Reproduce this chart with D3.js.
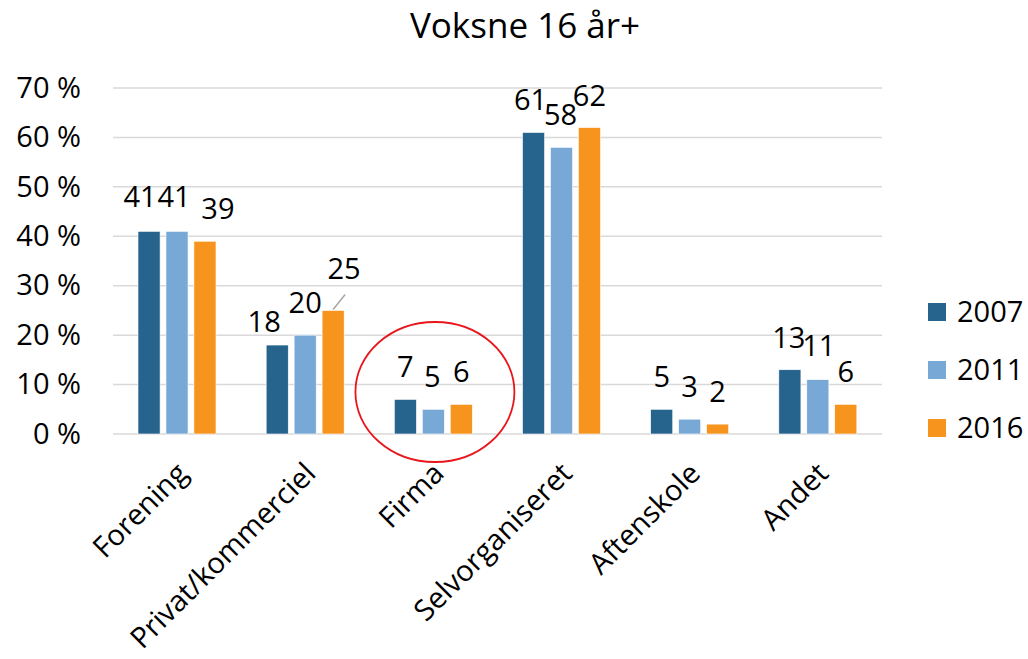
<!DOCTYPE html>
<html>
<head>
<meta charset="utf-8">
<script src="https://cdn.jsdelivr.net/npm/d3@7"></script>
<style>
  html, body { margin: 0; padding: 0; background: #fff; }
  #chart { width: 1028px; height: 659px; }
</style>
</head>
<body>
<div id="chart"></div>
<script>
const categories = ["Forening", "Privat/kommerciel", "Firma", "Selvorganiseret", "Aftenskole", "Andet"];
const years = ["2007", "2011", "2016"];
const values2007 = [41, 18, 7, 61, 5, 13];
const values2011 = [41, 20, 5, 58, 3, 11];
const values2016 = [39, 25, 6, 62, 2, 6];
const yTicks = [0, 10, 20, 30, 40, 50, 60, 70];

// manual nudges of the data labels (as moved in the original), [dx, dy] per year
const labelNudge = [
  [[-9, -2], [-3, -2], [13, 0]],
  [[-13, 9], [0, 0], [11, -9]],
  [[0, 0], [-1, 0], [0, 0]],
  [[-3, 0], [-1, 0], [0, 0]],
  [[0, 0], [0, 0], [0, 0]],
  [[-1, 0], [1, -2], [0, 0]]
];

const colors = ["#26648e", "#78a9d6", "#f7941e"];
const font = "'Open Sans', 'Noto Sans', sans-serif";
const series = [values2007, values2011, values2016];

const svg = d3.select("#chart")
  .append("svg")
  .attr("width", 1028)
  .attr("height", 659)
  .style("font-family", font);

const plotLeft = 113, plotRight = 882;
const x0 = d3.scaleBand().domain(categories).range([plotLeft, plotRight]).padding(0);
const x1 = d3.scaleBand().domain(years).range([25, 103]).paddingInner(0.21).paddingOuter(0);
const y = d3.scaleLinear().domain([0, 70]).range([434, 88]);

// title
svg.append("text")
  .attr("x", 525)
  .attr("y", 38)
  .attr("text-anchor", "middle")
  .attr("font-size", "35px")
  .attr("fill", "#000")
  .text("Voksne 16 år+");

// gridlines
svg.append("g")
  .selectAll("line")
  .data(yTicks)
  .join("line")
  .attr("x1", plotLeft)
  .attr("x2", plotRight)
  .attr("y1", d => y(d))
  .attr("y2", d => y(d))
  .attr("stroke", "#d9d9d9")
  .attr("stroke-width", 1.5);

// y axis labels
const yAxis = d3.axisLeft(y).tickValues(yTicks).tickSize(0).tickPadding(0)
  .tickFormat(d => d + "\u00a0%");
const yG = svg.append("g").attr("transform", "translate(81,0)").call(yAxis);
yG.select(".domain").remove();
yG.selectAll("text")
  .attr("font-size", "29px")
  .attr("font-family", font)
  .attr("fill", "#000");

// bars
const groups = svg.append("g")
  .selectAll("g")
  .data(categories)
  .join("g")
  .attr("transform", d => `translate(${x0(d)},0)`);

groups.selectAll("rect")
  .data((c, i) => years.map((yr, j) => ({ yr, j, v: series[j][i] })))
  .join("rect")
  .attr("x", d => x1(d.yr))
  .attr("y", d => y(d.v))
  .attr("width", x1.bandwidth())
  .attr("height", d => y(0) - y(d.v))
  .attr("fill", d => colors[d.j])
  .attr("stroke", "#fff")
  .attr("stroke-width", 0.6);

// leader line for the moved "25" label
svg.append("line")
  .attr("x1", x0("Privat/kommerciel") + x1("2016") + x1.bandwidth() / 2)
  .attr("y1", y(values2016[1]) - 1)
  .attr("x2", x0("Privat/kommerciel") + x1("2016") + x1.bandwidth() / 2 + 12)
  .attr("y2", y(values2016[1]) - 16)
  .attr("stroke", "#a6a6a6")
  .attr("stroke-width", 1.5);

// data labels
groups.selectAll("text")
  .data((c, i) => years.map((yr, j) => ({ yr, j, v: series[j][i], n: labelNudge[i][j] })))
  .join("text")
  .attr("x", d => x1(d.yr) + x1.bandwidth() / 2 + d.n[0])
  .attr("y", d => y(d.v) - 22 + d.n[1])
  .attr("text-anchor", "middle")
  .attr("font-size", "29px")
  .attr("fill", "#000")
  .text(d => d.v);

// category labels, rotated
svg.append("g")
  .selectAll("text")
  .data(categories)
  .join("text")
  .attr("transform", d => `translate(${x0(d) + x0.bandwidth() / 2 + 5},468) rotate(-45)`)
  .attr("text-anchor", "end")
  .attr("dy", "0.35em")
  .attr("font-size", "29px")
  .attr("fill", "#000")
  .text(d => d);

// legend
const legend = svg.append("g")
  .selectAll("g")
  .data(years)
  .join("g")
  .attr("transform", (d, i) => `translate(928,${303 + i * 58})`);
legend.append("rect")
  .attr("width", 18)
  .attr("height", 18)
  .attr("fill", (d, i) => colors[i]);
legend.append("text")
  .attr("x", 29)
  .attr("y", 19)
  .attr("font-size", "29px")
  .attr("fill", "#000")
  .text(d => d);

// red highlight circle around Firma
svg.append("ellipse")
  .attr("cx", x0("Firma") + x0.bandwidth() / 2 + 1.5)
  .attr("cy", 392)
  .attr("rx", 79.5)
  .attr("ry", 70)
  .attr("fill", "none")
  .attr("stroke", "#e8161b")
  .attr("stroke-width", 1.8);
</script>
</body>
</html>
